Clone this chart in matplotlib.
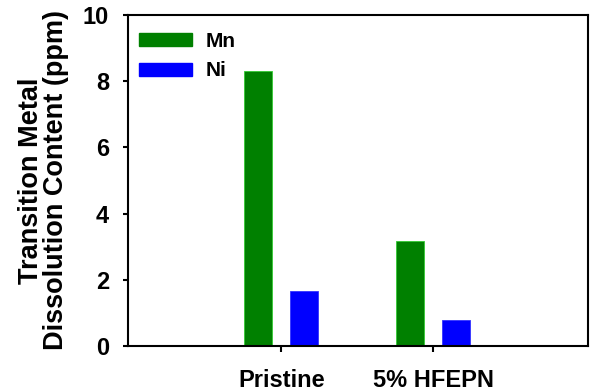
import matplotlib
matplotlib.use("Agg")
import matplotlib.pyplot as plt
import numpy as np
from matplotlib.patches import Patch

categories = ["Pristine", "5% HFEPN"]
mn_values = [8.3, 3.18]
ni_values = [1.66, 0.8]
series_names = ["Mn", "Ni"]
y_ticks = [0, 2, 4, 6, 8, 10]

plt.rcParams['font.family'] = ['Liberation Sans', 'DejaVu Sans']
plt.rcParams['font.weight'] = 'bold'

fig = plt.figure(figsize=(5.94, 3.92), dpi=100)
ax = fig.add_axes([128/594, 1-346/392, 460/594, 331/392])

x = np.arange(len(categories))
w = 0.185
off = 0.151
ax.bar(x - off, mn_values, w, color="#008000", edgecolor="#33cc33", linewidth=0.6, label=series_names[0])
ax.bar(x + off, ni_values, w, color="#0000ff", edgecolor="#3333ff", linewidth=0.6, label=series_names[1])

ax.set_xlim(-1.01, 2.02)
ax.set_ylim(0, 10)
ax.set_yticks(y_ticks)
ax.set_yticklabels([str(t) for t in y_ticks], fontsize=17, fontweight='bold')
ax.set_xticks(x)
ax.set_xticklabels(categories, fontsize=17, fontweight='bold')
ax.tick_params(axis='x', direction='out', length=4.3, width=1.5, pad=12)
ax.tick_params(axis='y', direction='out', length=3.6, width=1.5, pad=10)
for s in ax.spines.values():
    s.set_linewidth(1.5)

ax.set_ylabel("Transition Metal\nDissolution Content (ppm)", fontsize=19.5, fontweight='bold',
              labelpad=10, linespacing=0.95)

handles = [Patch(facecolor="#008000", edgecolor="#008000"), Patch(facecolor="#0000ff", edgecolor="#0000ff")]
leg = ax.legend(handles, series_names, loc='upper left', frameon=False,
                handlelength=2.55, handleheight=0.58, handletextpad=0.63,
                borderaxespad=0.0, borderpad=0.0, labelspacing=0.5,
                bbox_to_anchor=(11/460, 1 - 17/331),
                prop={'weight': 'bold', 'size': 15})

fig.savefig("out.png", dpi=100)
